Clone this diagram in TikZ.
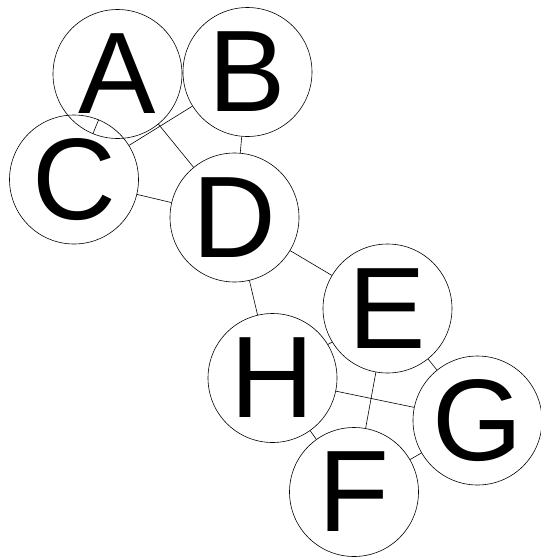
\documentclass[tikz,border=0pt]{standalone}
\usepackage{fontspec}
\setmainfont{Liberation Sans}
\begin{document}
\begin{tikzpicture}[x=1pt,y=-1pt,
  vtx/.style={circle,draw,line width=0.6pt,minimum size=129pt,inner sep=0pt,
    font=\fontsize{116}{116}\selectfont},
  edge/.style={line width=0.6pt}]
\useasboundingbox (0,0) rectangle (541,558);
\node[vtx] (A) at (117.5,74) {A};
\node[vtx] (B) at (247.5,72) {B};
\node[vtx] (C) at (74,179.5) {C};
\node[vtx] (D) at (234.5,217.5) {D};
\node[vtx] (E) at (387.5,308.5) {E};
\node[vtx] (H) at (272.5,378) {H};
\node[vtx] (G) at (477.5,420.5) {G};
\node[vtx] (F) at (354,492) {F};
\draw[edge] (A) -- (B);
\draw[edge] (A) -- (C);
\draw[edge] (A) -- (D);
\draw[edge] (B) -- (C);
\draw[edge] (B) -- (D);
\draw[edge] (C) -- (D);
\draw[edge] (D) -- (E);
\draw[edge] (D) -- (H);
\draw[edge] (E) -- (H);
\draw[edge] (E) -- (G);
\draw[edge] (E) -- (F);
\draw[edge] (H) -- (G);
\draw[edge] (H) -- (F);
\draw[edge] (F) -- (G);
\end{tikzpicture}
\end{document}
